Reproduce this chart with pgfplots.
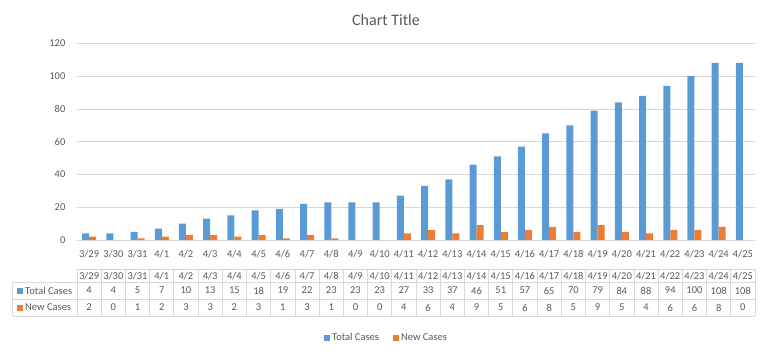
\documentclass[border=0pt]{standalone}
\usepackage{fontspec}
\setmainfont{Carlito}
\usepackage{pgfplots}
\usepackage{pgfplotstable}
\pgfplotsset{compat=1.18}
\definecolor{cblue}{HTML}{5B9BD5}
\definecolor{corange}{HTML}{ED7D31}
\definecolor{gridg}{HTML}{D9D9D9}
\definecolor{txt}{HTML}{595959}
\pgfplotstableread{
x date total new
0 3/29 4 2
1 3/30 4 0
2 3/31 5 1
3 4/1 7 2
4 4/2 10 3
5 4/3 13 3
6 4/4 15 2
7 4/5 18 3
8 4/6 19 1
9 4/7 22 3
10 4/8 23 1
11 4/9 23 0
12 4/10 23 0
13 4/11 27 4
14 4/12 33 6
15 4/13 37 4
16 4/14 46 9
17 4/15 51 5
18 4/16 57 6
19 4/17 65 8
20 4/18 70 5
21 4/19 79 9
22 4/20 84 5
23 4/21 88 4
24 4/22 94 6
25 4/23 100 6
26 4/24 108 8
27 4/25 108 0
}\datatable
\newcommand{\lf}{\fontsize{10.5}{12}\selectfont}
\begin{document}
\begin{tikzpicture}[x=1pt,y=1pt]
\useasboundingbox (-77,-116) rectangle (691,240);
\begin{axis}[
  at={(0,0)}, anchor=south west,
  scale only axis, width=678pt, height=196.7pt,
  xmin=-0.5, xmax=27.5, ymin=0, ymax=120,
  clip=false,
  axis lines=left, axis line style={-},
  y axis line style={draw=none},
  x axis line style={draw=gridg},
  ytick={0,20,...,120},
  ymajorgrids, major grid style={draw=gridg},
  ytick style={draw=none},
  xtick=data,
  xticklabels from table={\datatable}{date},
  xtick style={draw=none},
  extra x ticks={-0.5,0.5,...,27.5},
  extra x tick labels={},
  extra x tick style={tick style={draw=gridg}, major tick length=5pt, tick align=outside, grid=none},
  /pgf/number format/assume math mode=true,
  ticklabel style={font=\lf, text=txt},
  yticklabel style={anchor=east, xshift=-6pt},
  xticklabel style={anchor=center, yshift=-12pt},
  legend style={at={(0.4565,-0.498)}, anchor=center, draw=none, font=\lf, text=txt, legend columns=2, /tikz/every even column/.append style={column sep=12pt}},
  legend image code/.code={\fill[#1] (0pt,-3pt) rectangle (6pt,3pt);},
]
\addplot[ybar, bar width=7pt, bar shift=-3.5pt, fill=cblue, draw=none] table[x=x, y=total] {\datatable};
\addplot[ybar, bar width=7pt, bar shift=3.5pt, fill=corange, draw=none] table[x=x, y=new] {\datatable};
\legend{Total Cases, New Cases}
\addplot[forget plot, draw=none, mark=none, nodes near coords, point meta=explicit symbolic,
  nodes near coords style={anchor=center, yshift=-36pt, font=\lf, text=txt}] table[x=x, y expr=0, meta=date] {\datatable};
\addplot[forget plot, draw=none, mark=none, nodes near coords, point meta=explicit symbolic,
  nodes near coords style={anchor=center, yshift=-50.5pt, font=\lf, text=txt}] table[x=x, y expr=0, meta=total] {\datatable};
\addplot[forget plot, draw=none, mark=none, nodes near coords, point meta=explicit symbolic,
  nodes near coords style={anchor=center, yshift=-67.5pt, font=\lf, text=txt}] table[x=x, y expr=0, meta=new] {\datatable};
\end{axis}
% table grid
\begin{scope}[draw=gridg, line width=0.8pt]
\draw (0,-29.3) -- (678,-29.3);
\draw (-64.3,-42.3) -- (678,-42.3);
\draw (-64.3,-59.3) -- (678,-59.3);
\draw (-64.3,-76) -- (678,-76);
\draw (-64.3,-42.3) -- (-64.3,-76);
\foreach \i in {0,...,28} { \draw ({\i*24.2143},-29.3) -- ({\i*24.2143},-76); }
\end{scope}
\node[anchor=west, font=\lf, text=txt, inner sep=0pt] at (-60,-50.5) {\textcolor{cblue}{\rule{6pt}{6pt}}\hspace{2pt}Total Cases};
\node[anchor=west, font=\lf, text=txt, inner sep=0pt] at (-60,-67.5) {\textcolor{corange}{\rule{6pt}{6pt}}\hspace{2pt}New Cases};
\node[font=\fontsize{16}{19}\selectfont, text=txt] at (309,220) {Chart Title};
\end{tikzpicture}
\end{document}
